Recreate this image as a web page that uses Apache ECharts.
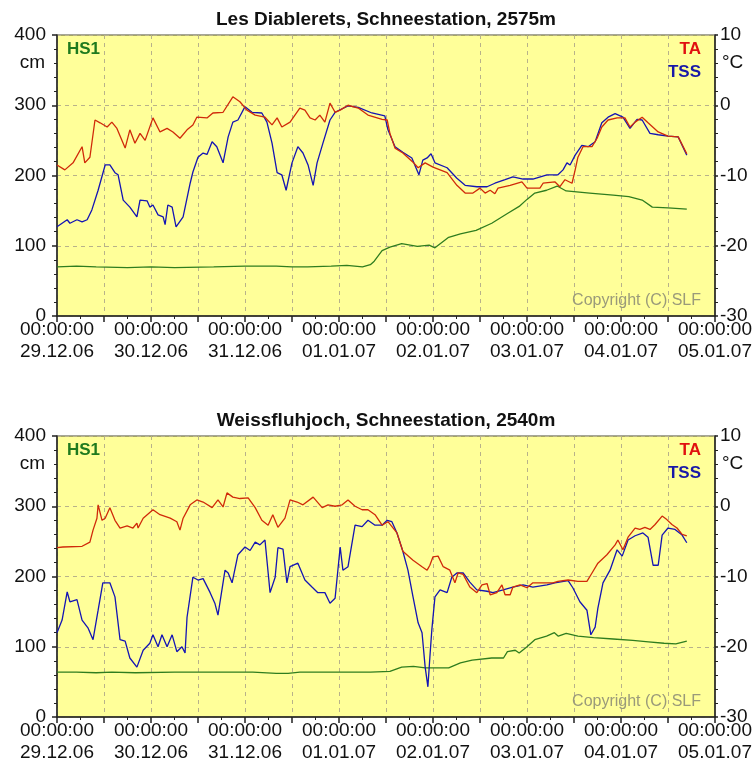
<!DOCTYPE html>
<html><head><meta charset="utf-8">
<script src="https://cdn.jsdelivr.net/npm/echarts@6/dist/echarts.min.js"></script>
<style>html,body{margin:0;padding:0;background:#fff}#c{width:755px;height:772px}</style>
</head><body><div id="c"></div>
<script>
// Hours since 29.12.06 00:00
const dayLabels = ['29.12.06','30.12.06','31.12.06','01.01.07','02.01.07','03.01.07','04.01.07','05.01.07'];
const titles = ['Les Diablerets, Schneestation, 2575m', 'Weissfluhjoch, Schneestation, 2540m'];

// Les Diablerets
const ta1 = [[0,-8.5],[2,-9.2],[4.1,-8.2],[6.4,-5.9],[7.1,-8.2],[8.4,-7.4],[9.7,-2.1],[11,-2.5],[12.8,-3.1],[14,-2.4],[15.3,-3.3],[17.4,-6.1],[18.6,-3.5],[19.9,-5.4],[21.2,-4.0],[22.5,-5.0],[24.5,-1.8],[26.3,-3.8],[28.1,-3.3],[29.6,-3.8],[31.4,-4.7],[33.2,-3.5],[34.7,-2.8],[35.7,-1.7],[38.3,-1.8],[39.8,-1.1],[42.4,-1.0],[44.9,1.2],[46.7,0.5],[48.5,-0.7],[50.6,-1.4],[53.1,-1.7],[54.9,-2.8],[56.2,-1.8],[57.4,-3.1],[59.5,-2.4],[62,-0.4],[63.3,-0.7],[64.6,-1.8],[65.9,-2.1],[67.1,-1.4],[68.4,-2.4],[69.7,0.3],[71,-1.0],[72.3,-0.7],[74.3,0.0],[76.9,-0.4],[79.4,-1.4],[83,-2.0],[84.3,-2.1],[85,-4.0],[86.3,-6.1],[88.3,-6.8],[90.9,-8.1],[92.2,-8.9],[94,-8.2],[96,-8.8],[99.6,-9.6],[102.1,-11.4],[104.2,-12.5],[106.2,-12.5],[108,-11.8],[109.3,-12.5],[110.6,-12.1],[111.8,-12.6],[112.6,-11.8],[115.7,-11.4],[118.7,-10.9],[120,-11.8],[123.3,-11.8],[124.1,-11.1],[127.1,-10.9],[128.4,-11.6],[129.7,-10.6],[131.5,-11.1],[132.3,-9.2],[133,-7.4],[134.3,-5.9],[136.6,-5.9],[137.9,-4.7],[139.1,-3.1],[140.7,-2.1],[143,-1.8],[145,-1.8],[146.3,-3.1],[147.6,-2.4],[149.4,-1.7],[150.9,-2.5],[153.5,-3.8],[156,-4.4],[158.6,-4.5],[160.8,-6.9]];
const tss1 = [[0,-17.3],[1.3,-16.8],[2.6,-16.3],[3.3,-16.8],[5.1,-16.3],[6.4,-16.6],[7.7,-16.3],[8.9,-14.9],[10.5,-12.1],[12.3,-8.5],[13.5,-8.5],[14.8,-9.6],[15.6,-9.9],[16.9,-13.5],[18.6,-14.5],[20.4,-15.9],[21.2,-13.5],[23,-13.6],[23.7,-14.5],[24.5,-14.2],[25.8,-15.6],[27.1,-15.9],[27.6,-17.0],[28.3,-14.2],[29.4,-14.5],[30.4,-17.3],[32.2,-15.9],[34,-11.1],[34.7,-9.5],[36,-7.4],[37.3,-6.8],[38.3,-7.0],[39.6,-5.2],[40.8,-5.9],[42.4,-8.2],[43.7,-4.5],[44.9,-2.4],[46.2,-2.1],[48,-0.2],[49.8,-1.0],[52.3,-1.1],[53.6,-2.4],[54.9,-5.4],[56.2,-9.6],[57.4,-9.9],[58.5,-12.1],[60,-8.2],[61.5,-5.9],[62.8,-6.8],[64.1,-8.5],[65.4,-11.4],[66.4,-8.2],[67.9,-5.4],[69.7,-2.1],[71,-1.0],[74.3,-0.1],[76.9,-0.3],[80.4,-1.1],[83.7,-1.5],[84.5,-3.5],[86.3,-5.9],[88.3,-6.7],[90.6,-7.5],[92.4,-9.9],[93.4,-7.8],[94.5,-7.5],[95.5,-6.9],[96.5,-8.2],[99.6,-8.9],[102.1,-10.4],[104.2,-11.4],[107.2,-11.6],[109.8,-11.6],[111.8,-11.1],[114.4,-10.6],[116.4,-10.2],[119,-10.5],[121.5,-10.5],[125.1,-9.9],[127.9,-9.9],[129.2,-9.2],[130.2,-8.2],[131,-8.5],[132.3,-7.1],[134,-5.7],[135.6,-5.9],[137.4,-5.2],[139.1,-2.5],[140.7,-1.7],[142.5,-1.2],[144.5,-1.7],[146.3,-3.3],[148.1,-2.0],[149.4,-2.1],[151.4,-4.0],[153.5,-4.2],[156,-4.4],[158.6,-4.5],[160.8,-7.1]];
const hs1a = [[0,70],[5,71],[10,70],[18,69],[24,70],[30,69],[40,70],[48,71],[56,71],[60,70],[64,70],[70,71],[74,72],[78,70],[80,73],[81,78],[83,93],[85,98],[88,103],[92,99],[95,101],[96.5,97],[100,112],[103,117],[107,122],[111,132],[115,146],[118,156],[120,166],[122,175],[125,179],[127.7,185],[130,178],[136,175],[142,172],[146,170],[149.4,165],[152,155],[156,154],[160.8,152]];

// Weissfluhjoch
const ta2 = [[0,-5.9],[1.5,-5.8],[6.4,-5.7],[8.4,-5.1],[9.2,-3.4],[10.2,-1.7],[10.5,0.2],[11.5,-2.0],[12.3,-1.7],[13.5,-0.2],[14.8,-2.0],[16.1,-3.1],[17.9,-2.8],[19.4,-3.1],[20.4,-2.4],[20.7,-3.1],[22,-1.7],[24.5,-0.5],[26.3,-1.2],[28.9,-1.7],[30.6,-2.2],[31.4,-3.4],[32.2,-1.7],[34,0.2],[35.7,0.9],[37.3,0.6],[39.6,-0.2],[41.1,0.9],[42.4,-0.1],[43.4,1.9],[44.9,1.3],[46.7,1.1],[48.8,1.2],[50.6,-0.2],[52.3,-2.0],[53.9,-2.7],[55.1,-1.2],[56.4,-3.0],[58.2,-1.7],[59.5,0.9],[61.3,0.6],[62.8,0.2],[65.4,1.3],[67.7,-0.2],[69.2,0.2],[71,0.0],[72.8,0.2],[74.3,0.9],[76.1,0.0],[77.9,-0.5],[79.4,-0.5],[81.2,-1.2],[83,-2.7],[84.5,-2.2],[85,-2.0],[86.8,-3.8],[88.3,-6.4],[90.9,-7.7],[93.2,-8.6],[94.5,-9.1],[95.2,-8.4],[96,-7.2],[97.3,-7.1],[98.6,-8.6],[100.3,-9.1],[101.6,-10.9],[102.4,-9.5],[103.7,-9.7],[105.4,-11.5],[107.2,-12.3],[108.5,-11.2],[109.8,-11.0],[110.6,-12.6],[112.3,-12.3],[113.6,-11.2],[114.4,-12.6],[115.7,-12.6],[116.4,-11.5],[118.2,-11.2],[120,-11.6],[121.5,-10.9],[124.1,-10.9],[126.6,-10.9],[127.9,-10.7],[130.5,-10.5],[133,-10.7],[135.3,-10.7],[136.6,-9.5],[138.1,-8.1],[140.4,-6.9],[142.5,-5.5],[143.2,-4.8],[144.5,-6.2],[145.8,-4.4],[147.6,-3.1],[148.8,-3.3],[150.1,-3.0],[151.4,-3.3],[152.7,-2.6],[154.5,-1.4],[155.7,-1.9],[157,-2.6],[158.3,-3.1],[159.6,-4.0],[160.8,-4.2]];
const tss2 = [[0,-18.0],[1.3,-16.2],[2.6,-12.2],[3.3,-13.6],[5.1,-13.3],[6.4,-16.2],[7.9,-17.3],[9.2,-19.0],[10.5,-14.8],[11.7,-10.9],[13.5,-10.9],[14.8,-12.9],[16.1,-19.0],[17.4,-19.2],[18.6,-21.6],[20.4,-22.9],[22,-20.5],[23.7,-19.5],[24.5,-18.3],[25.8,-20.0],[26.8,-18.3],[28.1,-20.0],[29.4,-18.3],[30.6,-20.7],[31.9,-20.0],[32.7,-20.9],[33.2,-15.8],[34.7,-10.1],[36,-10.5],[37.3,-10.3],[39.1,-12.3],[40.3,-13.8],[41.1,-15.5],[42.9,-9.1],[43.7,-9.5],[44.7,-10.9],[46.2,-6.9],[48,-5.8],[49.3,-6.3],[50.6,-5.1],[51.8,-5.5],[53.1,-4.8],[54.4,-12.3],[55.7,-10.1],[56.4,-5.9],[57.7,-6.1],[58.7,-10.9],[59.5,-8.6],[61.5,-8.1],[63.3,-10.5],[65.1,-11.5],[66.6,-12.3],[68.4,-12.3],[69.7,-13.8],[71,-13.1],[72.3,-5.8],[73,-9.1],[74.3,-8.6],[76.1,-2.7],[77.9,-2.9],[79.4,-2.0],[81.2,-2.7],[83,-2.7],[84.3,-2.0],[85.5,-2.2],[86.8,-3.8],[88.3,-6.4],[89.6,-9.1],[90.9,-12.9],[92.2,-16.6],[93.2,-18.0],[94,-22.9],[94.7,-25.7],[95.2,-21.5],[95.7,-17.6],[96.5,-12.9],[97.8,-11.9],[99.6,-12.3],[100.8,-10.1],[102.1,-9.5],[103.7,-9.5],[105.4,-10.8],[107.2,-11.9],[109.8,-12.1],[111.3,-12.3],[113.9,-11.9],[116.4,-11.5],[119,-11.2],[121.5,-11.5],[125.1,-11.2],[127.1,-10.9],[130.5,-10.6],[131.7,-11.6],[133.5,-13.6],[135.3,-14.8],[136.3,-18.3],[137.4,-17.2],[138.1,-14.5],[139.4,-10.9],[141.2,-9.1],[143,-6.2],[144.3,-7.1],[145.8,-4.8],[147.6,-4.2],[149.6,-3.8],[150.9,-4.4],[152.2,-8.4],[153.5,-8.4],[154.5,-4.1],[156,-3.1],[157.8,-3.3],[159.6,-4.1],[160.8,-5.2]];
const hs1b = [[0,64],[5,64],[10,63],[14,64],[20,63],[30,64],[40,64],[50,64],[56,62],[59,62],[62,64],[80,64],[85,65],[88,71],[91,72],[94,70],[100,70],[103,77],[106,81],[111,84],[114,84],[115,93],[117,95],[118,91],[120,100],[122,110],[125,115],[127,120],[128,115],[130,119],[133,115],[137,113],[142,111],[147,109],[151,107],[155,105],[158,104],[160.8,108]];

const FONT = '"Liberation Sans", Arial, sans-serif';
const tops = [35, 436];
const GL = 57, GW = 658, GH = 281;
const RED = '#d02a0a', BLUE = '#1414b4', GREEN = '#2f7d1f';
const LBL = 19;

const grids = [], xAxes = [], yAxes = [], series = [], graphics = [];
const sets = [[hs1a, ta1, tss1], [hs1b, ta2, tss2]];
tops.forEach((top, i) => {
  grids.push({left: GL, top: top, width: GW, height: GH, show: true, backgroundColor: '#ffff99', borderColor: '#4a4a30', borderWidth: 1});
  xAxes.push({type: 'value', gridIndex: i, min: 0, max: 168, interval: 12,
    axisLine: {lineStyle: {color: '#222', width: 1.5}},
    axisTick: {length: 6, lineStyle: {color: '#222', width: 1.5}},
    minorTick: {show: true, splitNumber: 2, length: 3, lineStyle: {color: '#222'}},
    splitLine: {show: true, lineStyle: {color: '#b8b28a', type: [4, 4], width: 1}},
    axisLabel: {color: '#111', fontFamily: FONT, fontSize: LBL, lineHeight: 22, margin: 3, showMinLabel: true, showMaxLabel: true,
      formatter: v => (v % 24 === 0) ? '00:00:00\n' + dayLabels[v / 24] : ''}
  });
  yAxes.push({type: 'value', gridIndex: i, position: 'left', min: 0, max: 400, interval: 100,
    axisLine: {show: true, lineStyle: {color: '#222', width: 1.5}},
    axisTick: {show: true, length: 5, lineStyle: {color: '#222', width: 1.5}},
    minorTick: {show: true, splitNumber: 5, length: 3, lineStyle: {color: '#222'}},
    splitLine: {show: true, lineStyle: {color: '#b8b28a', type: [4, 4], width: 1}},
    axisLabel: {color: '#111', fontFamily: FONT, fontSize: LBL, margin: 11}
  });
  yAxes.push({type: 'value', gridIndex: i, position: 'right', min: -30, max: 10, interval: 10,
    axisLine: {show: true, lineStyle: {color: '#222', width: 1.5}},
    axisTick: {show: true, length: 3, lineStyle: {color: '#222', width: 1.5}},
    minorTick: {show: true, splitNumber: 5, length: 3, lineStyle: {color: '#222'}},
    splitLine: {show: false},
    axisLabel: {color: '#111', fontFamily: FONT, fontSize: LBL, margin: 5}
  });
  const [hs, ta, tss] = sets[i];
  series.push({name: 'HS1', type: 'line', xAxisIndex: i, yAxisIndex: i * 2, data: hs, showSymbol: false, lineStyle: {color: GREEN, width: 1.3}, z: 2});
  series.push({name: 'TSS', type: 'line', xAxisIndex: i, yAxisIndex: i * 2 + 1, data: tss, showSymbol: false, lineStyle: {color: BLUE, width: 1.3}, z: 3});
  series.push({name: 'TA', type: 'line', xAxisIndex: i, yAxisIndex: i * 2 + 1, data: ta, showSymbol: false, lineStyle: {color: RED, width: 1.3}, z: 4});

  graphics.push({type: 'text', x: 386, y: top - 15, style: {text: titles[i], font: 'bold 19px ' + FONT, fill: '#111', align: 'center', verticalAlign: 'middle', textAlign: 'center', textVerticalAlign: 'middle'}});
  graphics.push({type: 'text', x: 45, y: top + 28, style: {text: 'cm', font: LBL + 'px ' + FONT, fill: '#111', align: 'right', verticalAlign: 'middle', textAlign: 'right', textVerticalAlign: 'middle'}});
  graphics.push({type: 'text', x: 722, y: top + 28, style: {text: '°C', font: LBL + 'px ' + FONT, fill: '#111', align: 'left', verticalAlign: 'middle', textAlign: 'left', textVerticalAlign: 'middle'}});
  graphics.push({type: 'text', left: 67, top: top + 6, z: 10, style: {text: 'HS1', font: 'bold 17px ' + FONT, fill: '#1e7a1e'}});
  graphics.push({type: 'text', right: 54, top: top + 6, z: 10, style: {text: 'TA', font: 'bold 17px ' + FONT, fill: '#e01010'}});
  graphics.push({type: 'text', right: 54, top: top + 29, z: 10, style: {text: 'TSS', font: 'bold 17px ' + FONT, fill: '#1818a8'}});
  graphics.push({type: 'text', right: 54, top: top + 258, z: 10, style: {text: 'Copyright (C) SLF', font: '16px ' + FONT, fill: '#9a9a7a'}});
});

const chart = echarts.init(document.getElementById('c'), null, {renderer: 'canvas'});
chart.setOption({
  animation: false,
  backgroundColor: '#ffffff',
  grid: grids, xAxis: xAxes, yAxis: yAxes, series: series, graphic: graphics
});
</script></body></html>
